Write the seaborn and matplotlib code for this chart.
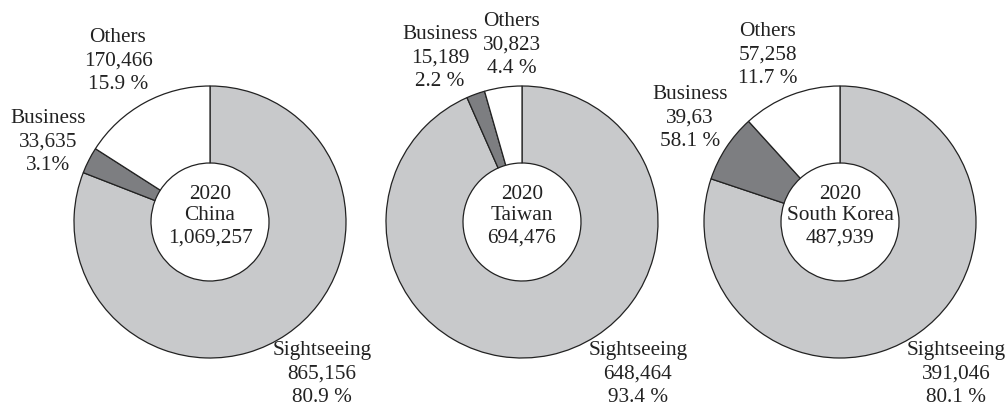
import matplotlib
matplotlib.use("Agg")
import matplotlib.pyplot as plt
import seaborn as sns

# Visitor arrivals in 2020 by purpose of visit
regions = ["China", "Taiwan", "South Korea"]
totals = ["1,069,257", "694,476", "487,939"]
sightseeing = [865156, 648464, 391046]
business = [33635, 15189, 39635]
others = [170466, 30823, 57258]

# Label text per region: (count, share) for each segment
sightseeing_text = [("865,156", "80.9 %"), ("648,464", "93.4 %"), ("391,046", "80.1 %")]
business_text = [("33,635", "3.1%"), ("15,189", "2.2 %"), ("39,63", "58.1 %")]
others_text = [("170,466", "15.9 %"), ("30,823", "4.4 %"), ("57,258", "11.7 %")]

sns.set_theme(style="white")
plt.rcParams["font.family"] = ["Liberation Serif", "DejaVu Serif"]

W, H = 1007, 409
fig = plt.figure(figsize=(W / 100, H / 100), dpi=100)
ax = fig.add_axes([0, 0, 1, 1])
ax.set_xlim(0, W)
ax.set_ylim(0, H)
ax.set_aspect("equal")
ax.axis("off")

colors = ["#c8c9cb", "#7d7e81", "#ffffff"]
radius = 136
ring = 77

# layout (pixel space, y measured from top)
centers = [(210, 222), (522, 222), (840, 222)]
pos_sight = [(322, 374), (638, 374), (956, 374)]
pos_bus = [(48, 142), (440, 58), (690, 118)]
pos_oth = [(118, 61), (512, 45), (768, 55)]

def fy(y):
    return H - y

fs = 15.3
ls = 1.32
txt = "#222222"
for i in range(3):
    cx, cy = centers[i]
    vals = [sightseeing[i], business[i], others[i]]
    ax.pie(vals, colors=colors, startangle=90, counterclock=False,
           center=(cx, fy(cy)), radius=radius, frame=True,
           wedgeprops=dict(width=ring, edgecolor="#222222", linewidth=0.9))
    ax.text(cx, fy(cy - 6), f"2020\n{regions[i]}\n{totals[i]}", ha="center",
            va="center", fontsize=fs, color=txt, linespacing=1.2)
    x, y = pos_sight[i]
    ax.text(x, fy(y), "Sightseeing\n" + "\n".join(sightseeing_text[i]),
            ha="center", va="center", fontsize=fs, color=txt, linespacing=ls)
    x, y = pos_bus[i]
    ax.text(x, fy(y), "Business\n" + "\n".join(business_text[i]),
            ha="center", va="center", fontsize=fs, color=txt, linespacing=ls)
    x, y = pos_oth[i]
    ax.text(x, fy(y), "Others\n" + "\n".join(others_text[i]),
            ha="center", va="center", fontsize=fs, color=txt, linespacing=ls)

ax.set_xlim(0, W)
ax.set_ylim(0, H)
ax.axis("off")
fig.savefig("out.png", dpi=100, facecolor="white")
